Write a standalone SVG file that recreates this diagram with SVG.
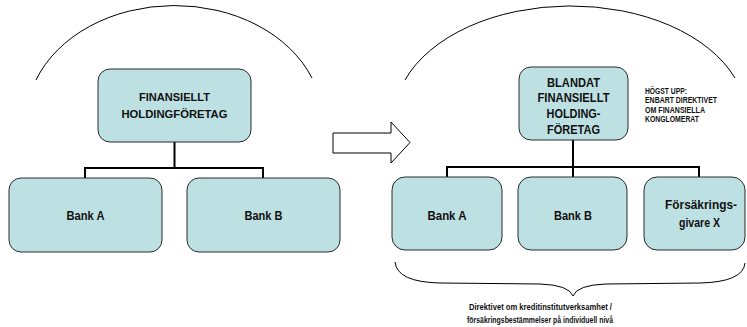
<svg xmlns="http://www.w3.org/2000/svg" width="747" height="327" viewBox="0 0 747 327">
<style>
.node rect{fill:#BDE0E3;stroke:#2a2a2a;stroke-width:1}
text{font-family:"Liberation Sans",Arial,sans-serif;font-weight:bold;fill:#111;text-anchor:middle}
.t11{font-size:11.5px}
.t13{font-size:13px}
.small{font-size:8.4px;text-anchor:start}
.foot{font-size:9.6px;text-anchor:start}
.conn{stroke:#000;stroke-width:2;fill:none}
.thin{stroke:#000;stroke-width:1;fill:none}
</style>
<rect width="747" height="327" fill="#fff"/>
<g id="decor">
<path class="thin" d="M36,80 A148 115 0 0 1 312,78"/>
<path class="thin" d="M405,80 A176 112 0 0 1 735,78"/>
<polygon points="333,133 391,133 391,122 410,142.5 391,163 391,153 333,153" fill="#fff" stroke="#000" stroke-width="1"/>
<path class="thin" d="M395,262 Q397,282 440,283 L540,284 Q569,285 573,296 Q577,285 606,284 L700,283 Q743,282 745,263"/>
</g>
<g id="connectors">
<path class="conn" d="M174.5,142 V168 M84,168 H264 M85,167 V178 M263,167 V178"/>
<path class="conn" d="M573,140 V167 M446,167 H700 M447,166 V177 M573,166 V177 M699,166 V177"/>
</g>
<g id="left-holding" class="node">
<rect x="98" y="69" width="153" height="73" rx="12"/>
<text class="t11" x="174.5" y="101" textLength="71" lengthAdjust="spacingAndGlyphs">FINANSIELLT</text>
<text class="t11" x="174.5" y="118" textLength="106" lengthAdjust="spacingAndGlyphs">HOLDINGFÖRETAG</text>
</g>
<g id="left-bank-a" class="node">
<rect x="9" y="178" width="153" height="74" rx="12"/>
<text class="t13" x="85.5" y="220" textLength="38" lengthAdjust="spacingAndGlyphs">Bank A</text>
</g>
<g id="left-bank-b" class="node">
<rect x="187" y="178" width="153" height="74" rx="12"/>
<text class="t13" x="263.5" y="220" textLength="38" lengthAdjust="spacingAndGlyphs">Bank B</text>
</g>
<g id="right-holding" class="node">
<rect x="519" y="67" width="109" height="73" rx="12"/>
<text class="t13" x="573.5" y="86.5" textLength="53" lengthAdjust="spacingAndGlyphs">BLANDAT</text>
<text class="t13" x="573.5" y="102" textLength="72" lengthAdjust="spacingAndGlyphs">FINANSIELLT</text>
<text class="t13" x="573.5" y="117.5" textLength="54" lengthAdjust="spacingAndGlyphs">HOLDING-</text>
<text class="t13" x="573.5" y="133.5" textLength="53" lengthAdjust="spacingAndGlyphs">FÖRETAG</text>
</g>
<g id="note-top">
<text class="small" x="645" y="94" textLength="42" lengthAdjust="spacingAndGlyphs">HÖGST UPP:</text>
<text class="small" x="645" y="103.3" textLength="72" lengthAdjust="spacingAndGlyphs">ENBART DIREKTIVET</text>
<text class="small" x="645" y="112.6" textLength="60" lengthAdjust="spacingAndGlyphs">OM FINANSIELLA</text>
<text class="small" x="645" y="121.9" textLength="54" lengthAdjust="spacingAndGlyphs">KONGLOMERAT</text>
</g>
<g id="right-bank-a" class="node">
<rect x="392" y="177" width="110" height="73" rx="13"/>
<text class="t13" x="447" y="220" textLength="39" lengthAdjust="spacingAndGlyphs">Bank A</text>
</g>
<g id="right-bank-b" class="node">
<rect x="518" y="177" width="109" height="73" rx="13"/>
<text class="t13" x="573" y="220" textLength="38" lengthAdjust="spacingAndGlyphs">Bank B</text>
</g>
<g id="right-insurer" class="node">
<rect x="644" y="177" width="101" height="73" rx="13"/>
<text class="t13" x="701" y="209" textLength="72" lengthAdjust="spacingAndGlyphs">Försäkrings-</text>
<text class="t13" x="699.5" y="226.5" textLength="41" lengthAdjust="spacingAndGlyphs">givare X</text>
</g>
<g id="note-bottom">
<text class="foot" x="469" y="310" textLength="143" lengthAdjust="spacingAndGlyphs">Direktivet om kreditinstitutverksamhet /</text>
<text class="foot" x="467" y="322.5" textLength="146" lengthAdjust="spacingAndGlyphs">försäkringsbestämmelser på individuell nivå</text>
</g>
</svg>
